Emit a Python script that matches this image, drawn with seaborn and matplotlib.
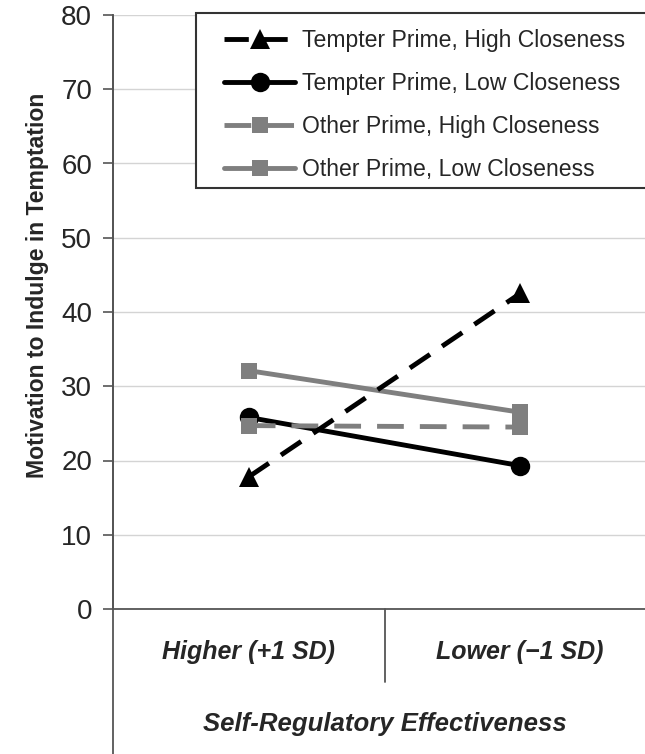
import pandas as pd
import matplotlib.pyplot as plt
import seaborn as sns
from matplotlib.patches import Rectangle

# Veriler
levels = ["Higher (+1 SD)", "Lower (\u22121 SD)"]
tempter_high = [17.8, 42.5]
tempter_low = [25.8, 19.3]
other_high = [24.7, 24.5]
other_low = [32.1, 26.5]

sns.set_style("white")
plt.rcParams['font.family'] = ['Liberation Sans', 'DejaVu Sans']

W, H = 645, 754
fig = plt.figure(figsize=(W / 100, H / 100), dpi=100)
ax = fig.add_axes([113 / W, 145 / H, 543 / W, 594 / H])

gray = '#7f7f7f'
# (etiket, değerler, renk, marker, boyut, kesik çizgi, zorder)
series = [
    ("Tempter Prime, Low Closeness", tempter_low, 'black', 'o', 14, None, 3),
    ("Other Prime, High Closeness", other_high, gray, 's', 12, (5.5, 3.3), 4),
    ("Other Prime, Low Closeness", other_low, gray, 's', 12, None, 2),
    ("Tempter Prime, High Closeness", tempter_high, 'black', '^', 15, (5, 3), 5),
]
dash_map = {}

for label, vals, color, marker, ms, dash, z in series:
    df = pd.DataFrame({'level': levels, 'score': vals})
    sns.lineplot(data=df, x='level', y='score', ax=ax, color=color, lw=3.5,
                 marker=marker, markersize=ms, markeredgecolor=color,
                 markeredgewidth=0, label=label, zorder=z)
    if dash is not None:
        ax.lines[-1].set_dashes(dash)
    dash_map[label] = dash

ax.set_xlim(-0.5, 1.5)
ax.set_ylim(0, 80)
ax.set_yticks(range(0, 81, 10))
ax.yaxis.grid(True, color='#d4d4d4', lw=1)
ax.set_axisbelow(True)
for s in ['top', 'right']:
    ax.spines[s].set_visible(False)
for s in ['left', 'bottom']:
    ax.spines[s].set_color('#555555')
    ax.spines[s].set_linewidth(1.3)

ax.tick_params(axis='y', which='both', left=True, length=7, width=1.2,
               color='#555555', pad=8, labelsize=20)
ax.tick_params(axis='x', length=0, pad=22)
for t in ax.get_xticklabels():
    t.set_fontsize(18)
    t.set_fontweight('bold')
    t.set_fontstyle('italic')

# sol eksen aşağı uzanıyor, kategori ayırıcı çizgi
ax.plot([0, 0], [-0.25, 1], transform=ax.transAxes, color='#555555', lw=1.3,
        clip_on=False)
ax.plot([0.5, 0.5], [-0.123, 0], transform=ax.transAxes, color='#555555',
        lw=1.3, clip_on=False)

ax.set_ylabel('Motivation to Indulge in Temptation', fontsize=16.6,
              fontweight='bold')
ax.yaxis.set_label_coords(-0.118, 0.545)
ax.set_xlabel('Self-Regulatory Effectiveness', fontsize=18.5,
              fontweight='bold', fontstyle='italic', labelpad=35)

handles, labels = ax.get_legend_handles_labels()
names = ["Tempter Prime, High Closeness", "Tempter Prime, Low Closeness",
         "Other Prime, High Closeness", "Other Prime, Low Closeness"]
order = [labels.index(l) for l in names]
leg = ax.legend([handles[i] for i in order], [labels[i] for i in order],
                loc='upper left', bbox_to_anchor=(224 / W, 1 - 29.5 / H),
                bbox_transform=fig.transFigure, borderaxespad=0, borderpad=0,
                fontsize=16.6, handlelength=3.1, handletextpad=0.3,
                labelspacing=0.86, frameon=False)
for h, name in zip(leg.legend_handles, names):
    if dash_map[name] is not None:
        h.set_dashes(dash_map[name])

# lejant çerçevesi
ax.add_patch(Rectangle((196 / W, 1 - 188 / H), 460 / W, 175 / H,
                       transform=fig.transFigure, facecolor='white',
                       edgecolor='#333333', lw=1.5, zorder=6, clip_on=False))
leg.set_zorder(7)

fig.savefig('out.png', dpi=100)
